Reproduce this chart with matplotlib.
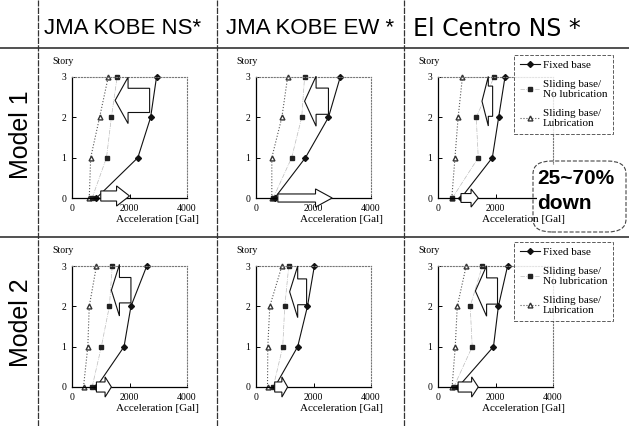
import matplotlib
matplotlib.use("Agg")
from matplotlib import pyplot as plt
from matplotlib.lines import Line2D
from matplotlib.patches import FancyArrow, FancyBboxPatch, Rectangle

# 数据：各层最大加速度 [Gal]
stories = [0, 1, 2, 3]
waves = ["JMA KOBE NS*", "JMA KOBE EW *", "El Centro NS *"]
models = ["Model 1", "Model 2"]

fixed_m1 = [[850, 2290, 2735, 2940], [650, 1720, 2520, 2930], [800, 1890, 2110, 2330]]
nolub_m1 = [[700, 1200, 1370, 1570], [600, 1240, 1590, 1690], [500, 1400, 1330, 1950]]
lub_m1 = [[600, 650, 960, 1260], [550, 550, 900, 1100], [480, 590, 700, 850]]

fixed_m2 = [[850, 1810, 2050, 2600], [650, 1450, 1790, 2030], [700, 1930, 2100, 2420]]
nolub_m2 = [[700, 1020, 1300, 1400], [600, 930, 1000, 1140], [550, 1190, 1120, 1540]]
lub_m2 = [[400, 550, 600, 850], [400, 410, 480, 900], [490, 600, 670, 980]]

# 箭头 (尾x, 头x, 层, 宽, 头宽, 头长)
top_arrows = [[(2700, 1500, 2.42, 0.6, 1.15, 450), (2520, 1690, 2.4, 0.65, 1.24, 400), (1900, 1530, 2.4, 0.75, 1.23, 220)],
              [(2050, 1370, 2.4, 0.63, 1.28, 280), (1760, 1170, 2.36, 0.64, 1.28, 280), (2070, 1300, 2.38, 0.65, 1.25, 390)]]
bottom_arrows = [[(1000, 2000, 0.05, 0.25, 0.5, 450), (760, 2650, 0.0, 0.2, 0.45, 580), (800, 1400, 0.0, 0.22, 0.45, 250)],
                 [(850, 1370, 0.0, 0.25, 0.5, 220), (650, 1100, 0.0, 0.25, 0.5, 200), (700, 1400, 0.0, 0.25, 0.5, 230)]]

labels = ["Fixed base", "Sliding base/\nNo lubrication", "Sliding base/\nLubrication"]

W, H = 629, 426
fig = plt.figure(figsize=(W / 100, H / 100), dpi=100)
serif = "Liberation Serif"
sans = "Liberation Sans"

# 分隔线
for yp in [48, 237]:
    fig.add_artist(Line2D([0, 1], [1 - yp / H] * 2, color="#222", lw=1.1))
for xp in [38, 217, 404]:
    fig.add_artist(Line2D([xp / W] * 2, [0, 1], color="#333", lw=0.9, linestyle=(0, (5, 1))))

# 列标题、行标题
head_fonts = [(sans, 16), (sans, 16), ("DejaVu Sans", 17)]
for xc, t, (fam, fs) in zip([123, 310, 497], waves, head_fonts):
    fig.text(xc / W, 1 - 29 / H, t, ha="center", va="center", fontsize=fs, family=fam)
for yc, t in zip([135, 323], models):
    fig.text(21 / W, 1 - yc / H, t, ha="center", va="center", rotation=90, fontsize=18, family=sans)

lefts = [72, 256, 438]
tops = [77, 266]
aw, ah = 115, 121

data = [(fixed_m1, nolub_m1, lub_m1), (fixed_m2, nolub_m2, lub_m2)]

for r in range(2):
    fixed, nolub, lub = data[r]
    for c in range(3):
        ax = fig.add_axes([lefts[c] / W, 1 - (tops[r] + ah) / H, aw / W, ah / H])
        ax.set_xlim(0, 4000)
        ax.set_ylim(0, 3)
        ax.plot(lub[c], stories, color="#555", lw=0.8, linestyle=":", marker="^",
                mfc="white", mec="#333", ms=3.5, clip_on=False, label=labels[2])
        ax.plot(nolub[c], stories, color="#bbb", lw=0.5, linestyle="-.", marker="s",
                mfc="#222", mec="#222", ms=2.5, clip_on=False, label=labels[1])
        ax.plot(fixed[c], stories, color="#111", lw=0.8, linestyle="-", marker="D",
                mfc="#111", mec="#111", ms=3, clip_on=False, label=labels[0])

        for a in (top_arrows[r][c], bottom_arrows[r][c]):
            x0, x1, yy, w, hw, hl = a
            ax.add_patch(FancyArrow(x0, yy, x1 - x0, 0, width=w, head_width=hw, head_length=hl,
                                    length_includes_head=True, fc="white", ec="#111", lw=0.8,
                                    clip_on=False, zorder=4))

        for s in ["top", "right"]:
            ax.spines[s].set_linestyle(":")
            ax.spines[s].set_color("#777")
            ax.spines[s].set_linewidth(0.8)
        for s in ["left", "bottom"]:
            ax.spines[s].set_linewidth(0.9)
        ax.set_xticks([0, 2000, 4000])
        ax.set_yticks([0, 1, 2, 3])
        ax.tick_params(direction="in", length=3, width=0.7, labelsize=7, pad=4)
        for lab in ax.get_xticklabels() + ax.get_yticklabels():
            lab.set_family(serif)
        ax.text(-0.17, 1.11, "Story", transform=ax.transAxes, fontsize=7, family=serif)

        if r == 0 and c == 2:
            # 右侧方框盖住 4000，轴标题画在最上层
            ax.get_xticklabels()[2].set_visible(False)
            fig.text((lefts[c] + 0.74 * aw) / W, 1 - (tops[r] + ah + 17) / H, "Acceleration [Gal]",
                     ha="center", va="top", fontsize=8, family=serif, color="black", zorder=30)
        else:
            ax.set_xlabel("Acceleration [Gal]", fontsize=8, family=serif)
            ax.xaxis.set_label_coords(0.74, -0.14)

        if c == 2:
            h, l = ax.get_legend_handles_labels()
            ly = 55 if r == 0 else 242
            leg = ax.legend(h[::-1], l[::-1], loc="upper left",
                            bbox_to_anchor=(514 / W, 1 - ly / H), bbox_transform=fig.transFigure,
                            prop={"family": serif, "size": 8}, handlelength=1.8, handletextpad=0.3,
                            labelspacing=0.85, borderpad=0.5, borderaxespad=0,
                            fancybox=False, edgecolor="#333")
            leg.get_frame().set_linestyle("--")
            leg.get_frame().set_linewidth(0.7)
            leg.set_zorder(10)

# 25~70% down 框：白底用普通矩形，外框用圆角虚线
fig.add_artist(Rectangle((537 / W, 1 - 228 / H), 85 / W, 63 / H, transform=fig.transFigure,
                         fc="white", ec="none", zorder=20))
fig.add_artist(FancyBboxPatch((533 / W, 1 - 232 / H), 93 / W, 71 / H, transform=fig.transFigure,
                              boxstyle="round,pad=0,rounding_size=0.03", fc="none", ec="#444",
                              lw=0.8, linestyle="--", zorder=21))
fig.text(537 / W, 1 - 191 / H, "25~70%\ndown", ha="left", va="center", fontsize=15,
         fontweight="bold", family=sans, linespacing=1.4, zorder=22)

plt.savefig("out.png", dpi=100)
